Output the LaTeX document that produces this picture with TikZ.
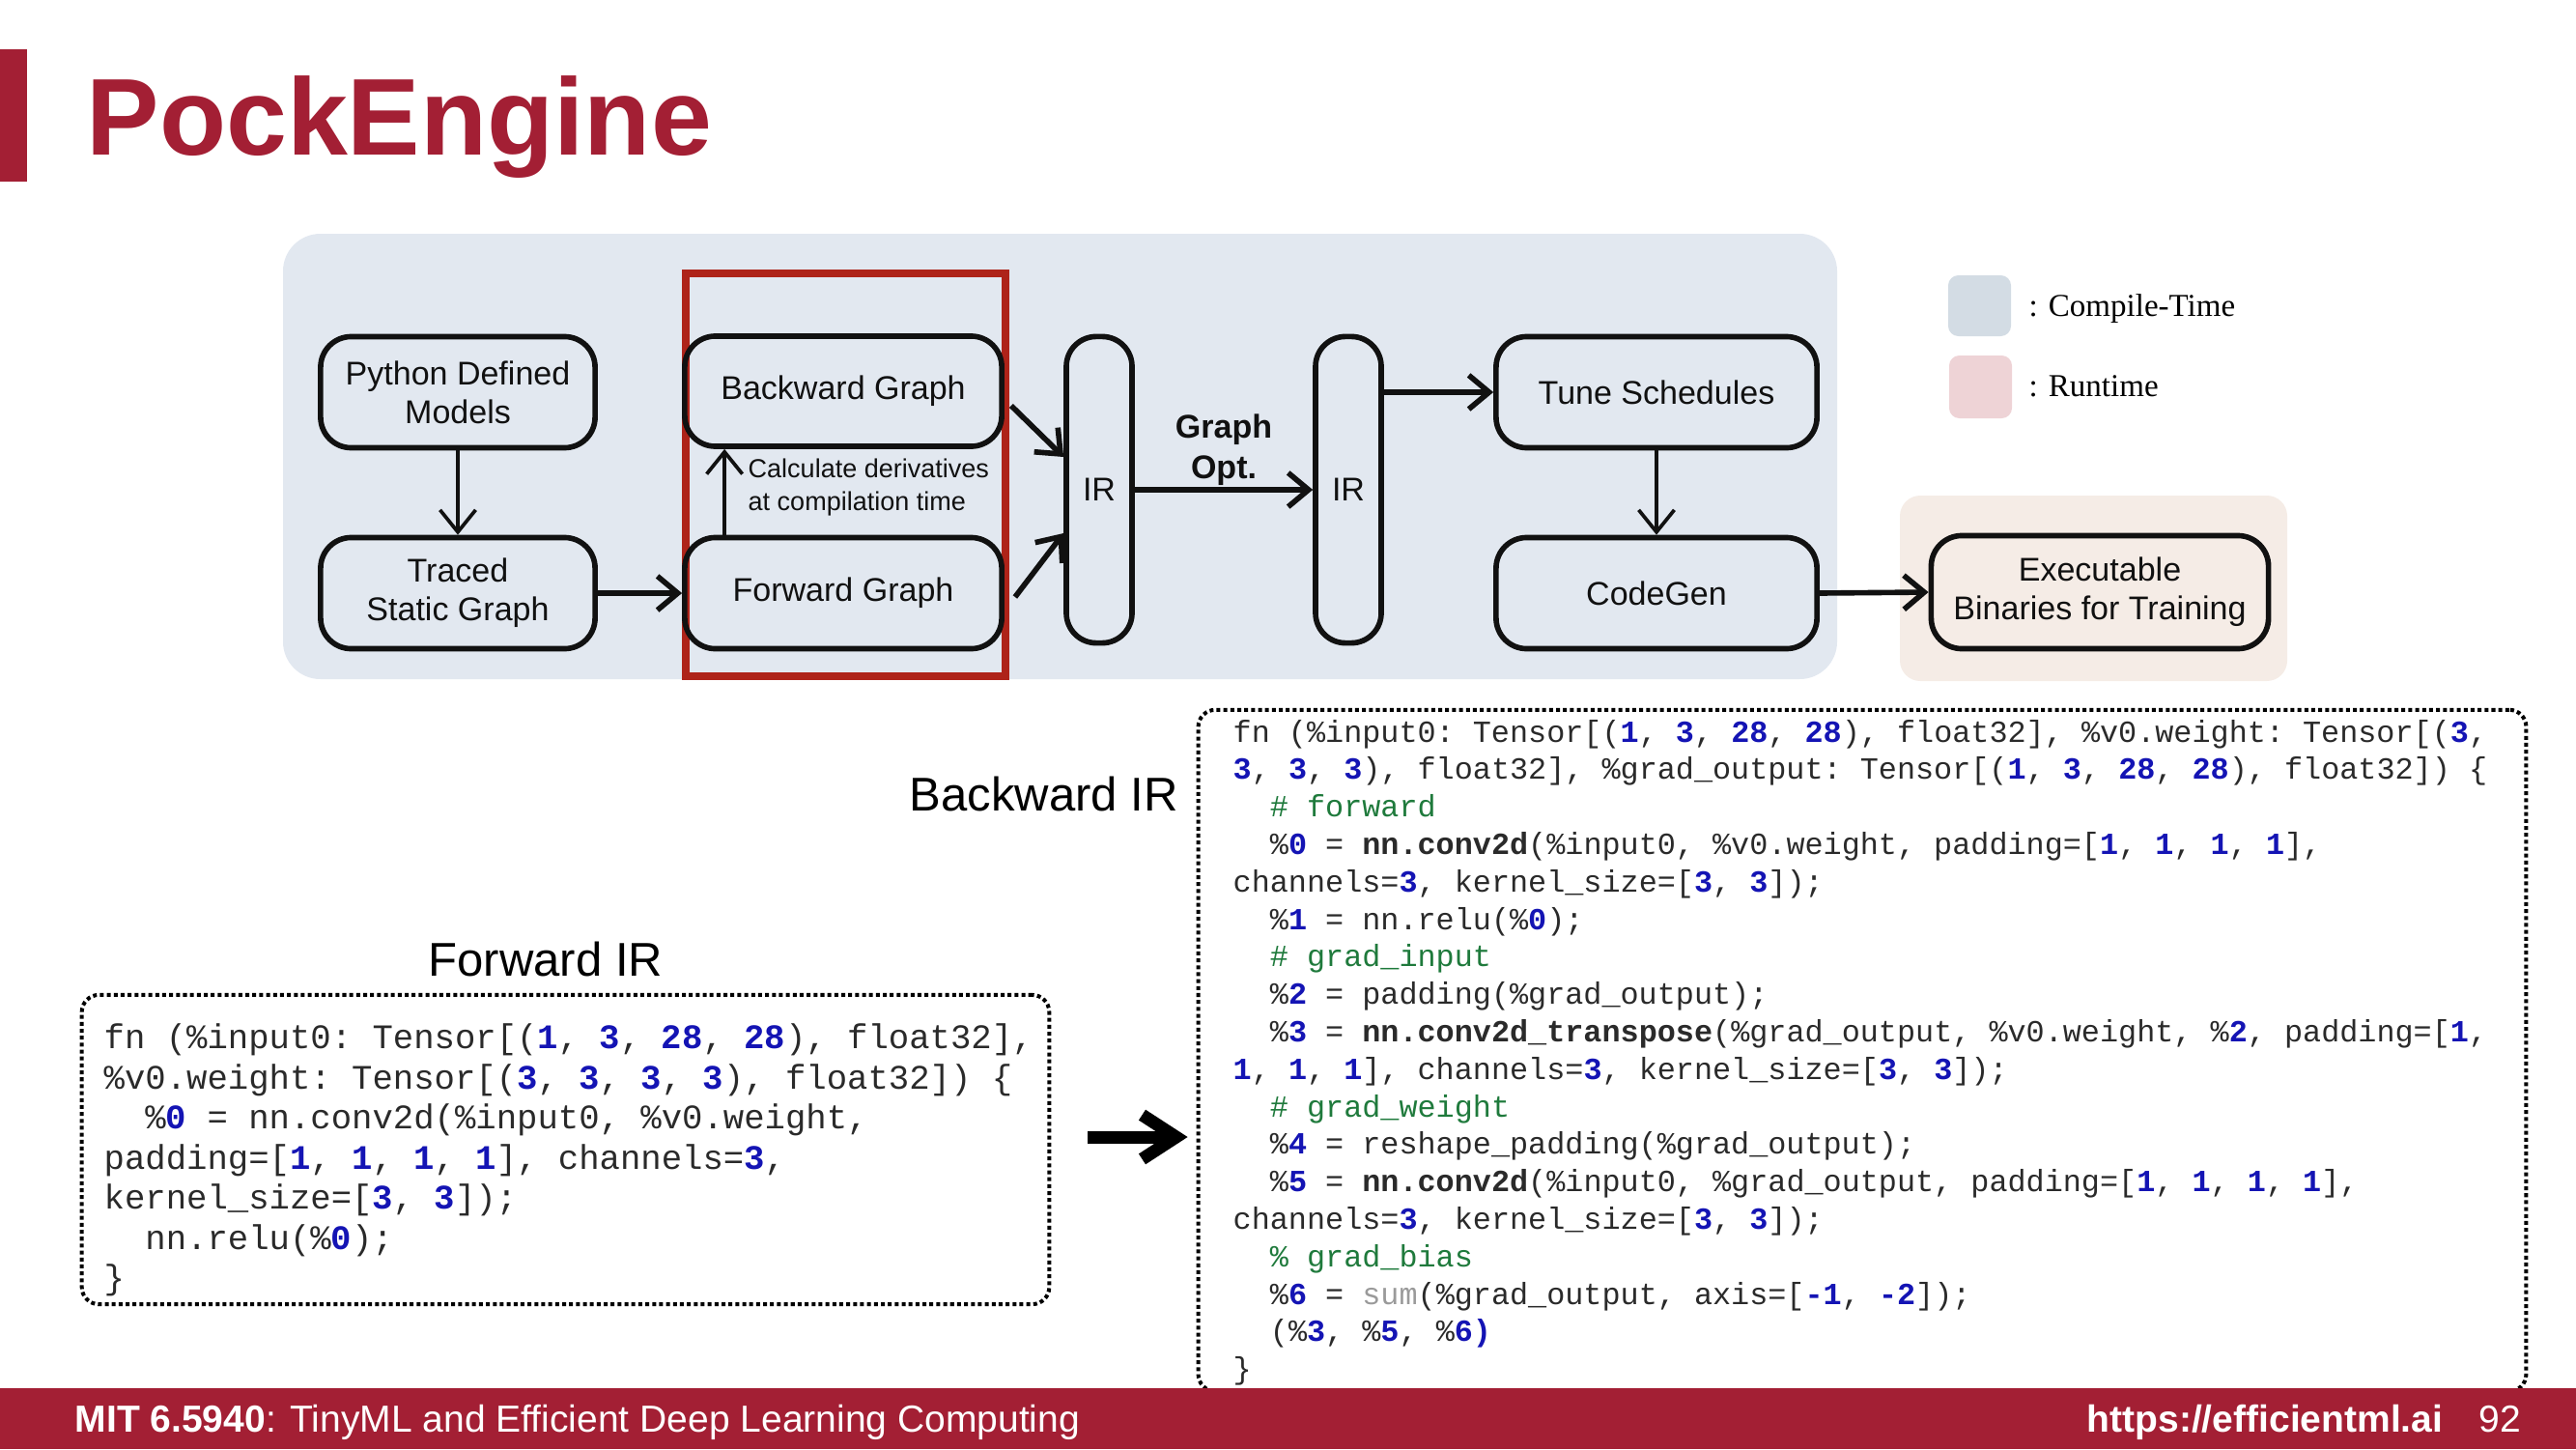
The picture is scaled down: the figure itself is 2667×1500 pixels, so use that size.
\documentclass[tikz,border=0pt]{standalone}
\usepackage{fontspec}
\setmainfont{Liberation Sans}
\setmonofont{Liberation Mono}
\newfontfamily\legendfont{Liberation Serif}
\usetikzlibrary{arrows.meta,calc}

\definecolor{mitred}{HTML}{A31F34}
\definecolor{panelblue}{HTML}{E2E8F0}
\definecolor{panelpeach}{HTML}{F5ECE6}
\definecolor{keyblue}{HTML}{D3DCE4}
\definecolor{keypink}{HTML}{EED3D6}
\definecolor{boxred}{HTML}{AE2319}
\definecolor{ink}{HTML}{111111}
\definecolor{codetext}{HTML}{2A2A2A}
\definecolor{codenum}{HTML}{1414B4}
\definecolor{codecomment}{HTML}{1F7A3C}
\definecolor{codegray}{HTML}{9A9A9A}

% font size given in pixels of the 2667x1500 canvas (1px = 0.01cm)
\newcommand\pxsize[2]{\fontsize{\fpeval{#1*0.28453}pt}{\fpeval{#2*0.28453}pt}\selectfont}
% code highlighting
\newcommand\cnum[1]{\textcolor{codenum}{\bfseries #1}}
\newcommand\ccom[1]{\textcolor{codecomment}{#1}}
\newcommand\cbold[1]{{\bfseries #1}}
\newcommand\cgray[1]{\textcolor{codegray}{#1}}

\tikzset{
  blk/.style={draw=ink, line width=1.6pt, rounded corners=9pt, align=center,
    text=ink, font=\pxsize{34}{40}, inner sep=0pt},
  wideblk/.style={blk, minimum width=2.84cm, minimum height=1.15cm},
  irblk/.style={blk, rounded corners=8.8pt, minimum width=0.68cm, minimum height=3.17cm},
  arrowthin/.style={draw=ink, line width=1.05pt, -{Straight Barb[length=6.5pt,width=10.5pt]}},
  arrowthick/.style={draw=ink, line width=1.6pt, -{Straight Barb[length=6pt,width=10pt]}},
  arrowbig/.style={draw=black, line width=3.7pt, -{Straight Barb[length=10pt,width=13pt]}},
  codebox/.style={draw=black, line width=1.14pt, dash pattern=on 1.14pt off 0.9pt,
    rounded corners=5pt, inner sep=0pt},
  fwcode/.style={anchor=base west, inner sep=0pt, text=codetext, font=\ttfamily\pxsize{35.6}{42}},
  bwcode/.style={anchor=base west, inner sep=0pt, text=codetext, font=\ttfamily\pxsize{31.8}{39}},
  heading/.style={inner sep=0pt, text=black, font=\pxsize{49}{56}},
}

\begin{document}
\begin{tikzpicture}[x=0.01cm, y=-0.01cm]
\useasboundingbox (0,0) rectangle (2667,1500);

% ---- title ----
\fill[mitred] (0,51) rectangle (28,188);
\node[anchor=base west, inner sep=0pt, text=mitred, font=\pxsize{113}{130}\bfseries]
  (title) at (89,161) {PockEngine};

% ---- background regions ----
\fill[panelblue, rounded corners=11pt] (293,242) rectangle (1902,703);
\fill[panelpeach, rounded corners=6pt] (1967,513) rectangle (2368,705);
\draw[boxred, line width=2.1pt] (710,283) rectangle (1041,700);

% ---- legend ----
\fill[keyblue, rounded corners=3pt] (2017,285) rectangle (2082,348);
\fill[keypink, rounded corners=3pt] (2018,368) rectangle (2083,433);
\node[anchor=base west, inner sep=0pt, font=\legendfont\pxsize{33}{40}] (keyct) at (2100,327) {: Compile-Time};
\node[anchor=base west, inner sep=0pt, font=\legendfont\pxsize{33}{40}] (keyrt) at (2100,410) {: Runtime};

% ---- pipeline blocks ----
\node[wideblk] (py) at (474,406) {Python Defined\\Models};
\node[wideblk] (tr) at (474,614) {Traced\\Static Graph};
\node[wideblk, minimum width=3.28cm, minimum height=1.14cm] (bw) at (873,405) {Backward Graph};
\node[wideblk, minimum width=3.28cm] (fw) at (873,614) {Forward Graph};
\node[irblk] (ir1) at (1138,507) {IR};
\node[irblk] (ir2) at (1396,507) {IR};
\node[wideblk, minimum width=3.32cm] (ts) at (1715,406) {Tune Schedules};
\node[wideblk, minimum width=3.32cm] (cg) at (1715,614) {CodeGen};
\node[wideblk, minimum width=3.49cm, minimum height=1.17cm] (ex) at (2174,613) {Executable\\Binaries for Training};

% ---- pipeline connectors ----
\draw[arrowthin] (py.south) -- (tr.north);
\draw[arrowthick] (tr.east) -- (fw.west);
\draw[arrowthin] ([xshift=0.44cm]fw.north west) -- ([xshift=0.44cm]bw.south west);
\node[anchor=west, align=left, inner sep=0pt, text=ink, font=\pxsize{27}{34}]
  (derivnote) at (774,505) {Calculate derivatives\\at compilation time};
\draw[arrowthick] ($(bw.east)+(7,15)$) -- ($(ir1.west)+(0,-34)$);
\draw[arrowthick] ($(fw.east)+(11,4)$) -- ($(ir1.west)+(0,45)$);
\draw[arrowthick] (ir1.east) -- (ir2.west);
\node[align=center, inner sep=0pt, text=ink, font=\pxsize{34}{42}\bfseries]
  (optlabel) at (1267,466) {Graph\\Opt.};
\draw[arrowthick] (ts.west -| ir2.east) -- (ts.west);
\draw[arrowthin] (ts.south) -- (cg.north);
\draw[arrowthick] (cg.east) -- (ex.west);

% ---- forward IR listing ----
\node[heading, anchor=base] (fwtitle) at (565,1010) {Forward IR};
\node[codebox, minimum width=10.01cm, minimum height=3.20cm] (fwbox) at (585.5,1190) {};
\node[fwcode] (fl1) at (107,1085) {fn (\%input0: Tensor[(\cnum{1}, \cnum{3}, \cnum{28}, \cnum{28}), float32],};
\node[fwcode] (fl2) at (107,1127) {\%v0.weight: Tensor[(\cnum{3}, \cnum{3}, \cnum{3}, \cnum{3}), float32]) \{};
\node[fwcode] (fl3) at (107,1168) {\phantom{xx}\%\cnum{0} = nn.conv2d(\%input0, \%v0.weight,};
\node[fwcode] (fl4) at (107,1210) {padding=[\cnum{1}, \cnum{1}, \cnum{1}, \cnum{1}], channels=\cnum{3},};
\node[fwcode] (fl5) at (107,1251) {kernel\_size=[\cnum{3}, \cnum{3}]);};
\node[fwcode] (fl6) at (107,1293) {\phantom{xx}nn.relu(\%\cnum{0});};
\node[fwcode] (fl7) at (107,1334) {\}};

% ---- backward IR listing ----
\node[heading, anchor=base west] (bwtitle) at (941,839) {Backward IR};
\node[codebox, minimum width=13.74cm, minimum height=7.05cm] (bwbox) at (1928,1087.5) {};
\node[bwcode] (bl1) at (1276,768.0) {fn (\%input0: Tensor[(\cnum{1}, \cnum{3}, \cnum{28}, \cnum{28}), float32], \%v0.weight: Tensor[(\cnum{3},};
\node[bwcode] (bl2) at (1276,806.8) {\cnum{3}, \cnum{3}, \cnum{3}), float32], \%grad\_output: Tensor[(\cnum{1}, \cnum{3}, \cnum{28}, \cnum{28}), float32]) \{};
\node[bwcode] (bl3) at (1276,845.6) {\phantom{xx}\ccom{\# forward}};
\node[bwcode] (bl4) at (1276,884.4) {\phantom{xx}\%\cnum{0} = \cbold{nn.conv2d}(\%input0, \%v0.weight, padding=[\cnum{1}, \cnum{1}, \cnum{1}, \cnum{1}],};
\node[bwcode] (bl5) at (1276,923.2) {channels=\cnum{3}, kernel\_size=[\cnum{3}, \cnum{3}]);};
\node[bwcode] (bl6) at (1276,962.0) {\phantom{xx}\%\cnum{1} = nn.relu(\%\cnum{0});};
\node[bwcode] (bl7) at (1276,1000.8) {\phantom{xx}\ccom{\# grad\_input}};
\node[bwcode] (bl8) at (1276,1039.6) {\phantom{xx}\%\cnum{2} = padding(\%grad\_output);};
\node[bwcode] (bl9) at (1276,1078.4) {\phantom{xx}\%\cnum{3} = \cbold{nn.conv2d\_transpose}(\%grad\_output, \%v0.weight, \%\cnum{2}, padding=[\cnum{1},};
\node[bwcode] (bl10) at (1276,1117.2) {\cnum{1}, \cnum{1}, \cnum{1}], channels=\cnum{3}, kernel\_size=[\cnum{3}, \cnum{3}]);};
\node[bwcode] (bl11) at (1276,1156.0) {\phantom{xx}\ccom{\# grad\_weight}};
\node[bwcode] (bl12) at (1276,1194.8) {\phantom{xx}\%\cnum{4} = reshape\_padding(\%grad\_output);};
\node[bwcode] (bl13) at (1276,1233.6) {\phantom{xx}\%\cnum{5} = \cbold{nn.conv2d}(\%input0, \%grad\_output, padding=[\cnum{1}, \cnum{1}, \cnum{1}, \cnum{1}],};
\node[bwcode] (bl14) at (1276,1272.4) {channels=\cnum{3}, kernel\_size=[\cnum{3}, \cnum{3}]);};
\node[bwcode] (bl15) at (1276,1311.2) {\phantom{xx}\ccom{\% grad\_bias}};
\node[bwcode] (bl16) at (1276,1350.0) {\phantom{xx}\%\cnum{6} = \cgray{sum}(\%grad\_output, axis=[\cnum{-1}, \cnum{-2}]);};
\node[bwcode] (bl17) at (1276,1388.8) {\phantom{xx}(\%\cnum{3}, \%\cnum{5}, \%\cnum{6)}};
\node[bwcode] (bl18) at (1276,1427.6) {\}};

% ---- forward -> backward arrow ----
\coordinate (bigstart) at ($(fwbox.east)+(38,-13)$);
\coordinate (bigend) at (bigstart -| bwbox.west);
\draw[arrowbig] (bigstart) -- ([xshift=-0.09cm]bigend);

% ---- footer ----
\fill[mitred] (0,1437) rectangle (2667,1500);
\node[anchor=base west, inner sep=0pt, text=white, font=\pxsize{39}{45}]
  (footleft) at (77,1482) {\textbf{MIT 6.5940}: TinyML and Efficient Deep Learning Computing};
\node[anchor=base west, inner sep=0pt, text=white, font=\pxsize{39}{45}\bfseries]
  (footurl) at (2160,1482) {https://efficientml.ai};
\node[anchor=base east, inner sep=0pt, text=white, font=\pxsize{39}{45}]
  (footpage) at (2611,1482) {92};
\end{tikzpicture}
\end{document}
